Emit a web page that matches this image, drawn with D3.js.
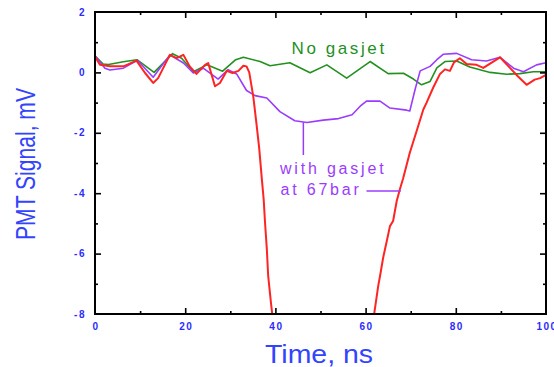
<!DOCTYPE html>
<html>
<head>
<meta charset="utf-8">
<script src="https://cdn.jsdelivr.net/npm/d3@7"></script>
<style>
  body { margin: 0; background: #fff; }
  svg { display: block; }
</style>
</head>
<body>
<div id="chart"></div>
<script>
// values (time in ns, signal in mV)
var greenT = [0, 1.8, 3, 6.3, 9.3, 13.1, 17.2, 19.2, 21.8, 24.8, 28.3, 31.2, 32.9, 36.6, 38.8, 43.2, 47.7, 51.4, 55.8, 61, 65, 68.4, 70.6, 72.4, 74.3, 75.8, 77.6, 80.2, 83.1, 87.6, 91.3, 94.2, 97.2, 100];
var greenV = [0.55, 0.28, 0.26, 0.35, 0.42, 0.0, 0.62, 0.47, 0.02, 0.25, 0.04, 0.42, 0.5, 0.36, 0.22, 0.32, -0.01, 0.25, -0.19, 0.36, -0.04, -0.03, -0.22, -0.41, -0.3, 0.15, 0.36, 0.38, 0.18, 0.0, -0.06, -0.04, 0.02, 0.02];

var purpleT = [0, 2.2, 3.3, 6.3, 9.4, 12.9, 16.6, 19.6, 21.8, 24, 27.3, 29.5, 31.4, 33.6, 35.5, 38.1, 41, 44.3, 47, 50.6, 54, 57, 58.8, 60.2, 63.2, 65.4, 69.1, 69.8, 71, 72.1, 74.3, 75.8, 77.2, 80.2, 83.5, 86.8, 89.8, 92.8, 95, 97.9, 100];
var purpleV = [0.55, 0.14, 0.08, 0.14, 0.4, -0.16, 0.58, 0.31, -0.02, 0.14, -0.22, 0.09, -0.05, -0.6, -0.77, -0.85, -1.3, -1.6, -1.66, -1.58, -1.53, -1.4, -1.12, -0.95, -0.95, -1.18, -1.25, -1.28, -0.55, 0.05, 0.2, 0.42, 0.6, 0.63, 0.42, 0.38, 0.5, 0.14, 0.02, 0.25, 0.32];

var redT = [0, 1.1, 3.3, 6.3, 9.2, 11.1, 12.9, 14, 16.6, 18.1, 19.6, 21, 22.5, 24.4, 25.1, 26.6, 27.7, 29.2, 30.5, 31.8, 32.9, 33.6, 34.2, 35.1, 35.8, 36.4, 37, 37.4, 37.7, 38.1, 38.4, 39, 39.3,
            50,
            61.9, 62.8, 63.2, 63.9, 64.7, 65.4, 66.1, 66.9, 67.6, 68.3, 69.8, 71.3, 72.8, 73.5, 75, 76.5, 77.6, 78.7, 79.6, 80.9, 82.4, 84.6, 86.1, 89.8, 92, 93.7, 95.7, 97.5, 98.7, 100];
var redV = [0.52, 0.25, 0.2, 0.2, 0.39, -0.02, -0.35, -0.19, 0.58, 0.47, 0.58, 0.2, -0.05, 0.25, 0.31, -0.46, -0.35, 0.05, -0.02, 0.05, 0.22, 0.2, 0, -0.8, -1.7, -2.5, -3.54, -4.2, -4.97, -5.85, -6.74, -7.61, -8,
            null,
            -8, -7.07, -6.74, -6.13, -5.58, -5.09, -4.92, -4.26, -3.87, -3.52, -2.66, -1.95, -1.23, -1.01, -0.5, -0.05, 0.1, 0.05, 0.33, 0.47, 0.28, 0.25, 0.15, 0.5, 0.15, -0.12, -0.41, -0.24, -0.19, -0.08];

var xTicks = [0, 20, 40, 60, 80, 100];
var yTicks = [2, 0, -2, -4, -6, -8];

var width = 554, height = 367;
var margin = { top: 12, right: 8, bottom: 53, left: 95 };

var svg = d3.select("#chart").append("svg")
    .attr("width", width)
    .attr("height", height);

var x = d3.scaleLinear().domain([0, 100]).range([margin.left, 546]);
var y = d3.scaleLinear().domain([-8, 2]).range([314, margin.top]);

svg.append("defs").append("clipPath").attr("id", "plot-clip")
    .append("rect")
    .attr("x", x(0)).attr("y", y(2))
    .attr("width", x(100) - x(0)).attr("height", y(-8) - y(2));

var lineGen = d3.line()
    .defined(function (d) { return d[1] != null; })
    .x(function (d) { return x(d[0]); })
    .y(function (d) { return y(d[1]); });

var series = [
    { t: greenT, v: greenV, color: "#23901f", w: 1.6 },
    { t: purpleT, v: purpleV, color: "#9a3cff", w: 1.6 },
    { t: redT, v: redV, color: "#ff2424", w: 2 }
];

var plot = svg.append("g").attr("clip-path", "url(#plot-clip)");
series.forEach(function (s) {
    plot.append("path")
        .datum(s.t.map(function (t, i) { return [t, s.v[i]]; }))
        .attr("fill", "none")
        .attr("stroke", s.color)
        .attr("stroke-width", s.w)
        .attr("stroke-linejoin", "round")
        .attr("d", lineGen);
});

// frame ticks: inside, major every 20 / 2, minor every 10 / 1
var tickColor = "#000";
var xMinor = d3.range(10, 100, 20), yMinor = d3.range(-7, 2, 2);

function tickAxis(axisFn, scale, values, size, tr) {
    var g = svg.append("g").attr("transform", tr)
        .call(axisFn(scale).tickValues(values).tickSize(size).tickFormat(""));
    g.select(".domain").remove();
    g.selectAll("line").attr("stroke", tickColor).attr("stroke-width", 1.6);
}
tickAxis(d3.axisTop, x, xTicks.slice(1, -1), 6, "translate(0," + y(-8) + ")");
tickAxis(d3.axisTop, x, xMinor, 3, "translate(0," + y(-8) + ")");
tickAxis(d3.axisBottom, x, xTicks.slice(1, -1), 6, "translate(0," + y(2) + ")");
tickAxis(d3.axisBottom, x, xMinor, 3, "translate(0," + y(2) + ")");
tickAxis(d3.axisRight, y, yTicks.slice(1, -1), 6, "translate(" + x(0) + ",0)");
tickAxis(d3.axisRight, y, yMinor, 3, "translate(" + x(0) + ",0)");
tickAxis(d3.axisLeft, y, yTicks.slice(1, -1), 6, "translate(" + x(100) + ",0)");
tickAxis(d3.axisLeft, y, yMinor, 3, "translate(" + x(100) + ",0)");

svg.append("rect")
    .attr("x", x(0)).attr("y", y(2))
    .attr("width", x(100) - x(0)).attr("height", y(-8) - y(2))
    .attr("fill", "none")
    .attr("stroke", "#000")
    .attr("stroke-width", 2);

// tick labels
var labelBlue = "#2b2bff";
svg.append("g").selectAll("text").data(xTicks).enter().append("text")
    .attr("x", function (d) { return x(d) + 1; })
    .attr("y", 329.5)
    .attr("text-anchor", "middle")
    .attr("fill", labelBlue)
    .style("font", "bold 10px 'Liberation Sans', Arial, sans-serif")
    .style("letter-spacing", "1.5px")
    .text(function (d) { return d; });

svg.append("g").selectAll("text").data(yTicks).enter().append("text")
    .attr("x", 86)
    .attr("y", function (d) { return y(d) + 3.5; })
    .attr("text-anchor", "end")
    .attr("fill", labelBlue)
    .style("font", "bold 10px 'Liberation Sans', Arial, sans-serif")
    .style("letter-spacing", "1.5px")
    .text(function (d) { return d; });

// axis titles
var titleBlue = "#3344ff";
svg.append("text")
    .attr("x", 265).attr("y", 362.5)
    .attr("fill", titleBlue)
    .attr("textLength", 108)
    .attr("lengthAdjust", "spacingAndGlyphs")
    .style("font", "25px 'Liberation Sans', Arial, sans-serif")
    .text("Time, ns");

svg.append("text")
    .attr("transform", "translate(35,240) rotate(-90)")
    .attr("fill", titleBlue)
    .attr("textLength", 152)
    .attr("lengthAdjust", "spacingAndGlyphs")
    .style("font", "27px 'Liberation Sans', Arial, sans-serif")
    .text("PMT Signal, mV");

// annotations
svg.append("text")
    .attr("x", 291.5).attr("y", 53.5)
    .attr("fill", "#23901f")
    .style("font", "17px 'Liberation Sans', Arial, sans-serif")
    .style("letter-spacing", "2.6px")
    .text("No gasjet");

var purple = "#9a3cff";
svg.append("text")
    .attr("x", 280).attr("y", 173.5)
    .attr("fill", purple)
    .style("font", "16px 'Liberation Sans', Arial, sans-serif")
    .style("letter-spacing", "2.8px")
    .text("with gasjet");
svg.append("text")
    .attr("x", 280.5).attr("y", 194.5)
    .attr("fill", purple)
    .style("font", "16px 'Liberation Sans', Arial, sans-serif")
    .style("letter-spacing", "2.8px")
    .text("at 67bar");

svg.append("line")
    .attr("x1", x(46.2)).attr("x2", x(46.2))
    .attr("y1", y(-1.65)).attr("y2", 155)
    .attr("stroke", purple).attr("stroke-width", 1.5);
svg.append("line")
    .attr("x1", 366.5).attr("x2", x(67.8))
    .attr("y1", 191).attr("y2", 191)
    .attr("stroke", purple).attr("stroke-width", 1.5);
</script>
</body>
</html>
